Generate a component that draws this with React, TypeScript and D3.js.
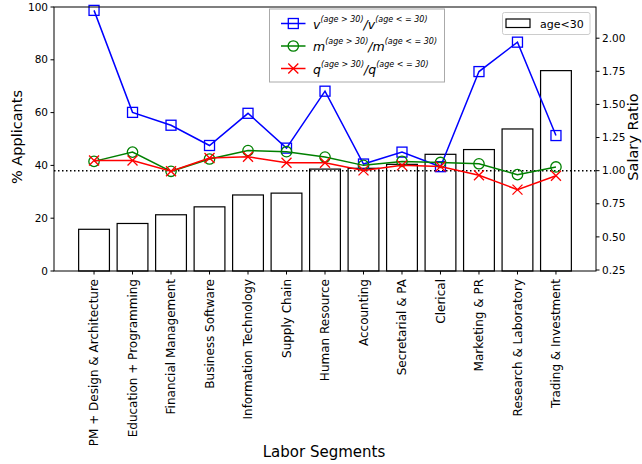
import React from "react";
import * as d3 from "d3";

const categories = [
  "PM + Design & Architecture",
  "Education + Programming",
  "Financial Management",
  "Business Software",
  "Information Technology",
  "Supply Chain",
  "Human Resource",
  "Accounting",
  "Secretarial & PA",
  "Clerical",
  "Marketing & PR",
  "Research & Laboratory",
  "Trading & Investment",
];
const applicants = [15.8, 18.0, 21.3, 24.3, 28.8, 29.5, 38.6, 38.9, 40.4, 44.2, 46.0, 53.8, 75.9];
const vRatio = [2.21, 1.44, 1.343, 1.19, 1.433, 1.17, 1.6, 1.05, 1.14, 1.03, 1.748, 1.97, 1.265];
const mRatio = [1.07, 1.14, 0.995, 1.088, 1.152, 1.143, 1.103, 1.04, 1.07, 1.062, 1.052, 0.97, 1.028];
const qRatio = [1.077, 1.077, 0.995, 1.095, 1.105, 1.06, 1.06, 1.002, 1.04, 1.032, 0.965, 0.857, 0.962];
const leftTicks = [0, 20, 40, 60, 80, 100];
const rightTicks = [0.25, 0.5, 0.75, 1.0, 1.25, 1.5, 1.75, 2.0];

const W = 642, H = 464;
const L = 54, R = 596, T = 7, B = 271;
const FONT = "DejaVu Sans, sans-serif";

export default function App() {
  const n = categories.length;
  const x = d3.scaleLinear().domain([-1.04, n - 1 + 1.04]).range([L, R]);
  const yL = d3.scaleLinear().domain([0, 100]).range([B, T]);
  const yR = d3.scaleLinear().domain([0.2425, 2.2355]).range([B, T]);
  const barW = (x(0.4) - x(-0.4));
  const line = (arr: number[]) =>
    d3.line<number>().x((_, i) => x(i)).y((d) => yR(d))(arr) || "";

  const square = (cx: number, cy: number, color: string, key: any) => (
    <rect key={key} x={cx - 5} y={cy - 5} width={10} height={10} fill="none" stroke={color} strokeWidth={1.3} />
  );
  const circle = (cx: number, cy: number, color: string, key: any) => (
    <circle key={key} cx={cx} cy={cy} r={5.2} fill="none" stroke={color} strokeWidth={1.3} />
  );
  const cross = (cx: number, cy: number, color: string, key: any) => (
    <path key={key} d={`M${cx - 5},${cy - 5}L${cx + 5},${cy + 5}M${cx - 5},${cy + 5}L${cx + 5},${cy - 5}`} stroke={color} strokeWidth={1.3} fill="none" />
  );

  const series = [
    { data: vRatio, color: "#0000ff", marker: square, sym: "v" },
    { data: mRatio, color: "#008000", marker: circle, sym: "m" },
    { data: qRatio, color: "#ff0000", marker: cross, sym: "q" },
  ];

  return (
    <svg width={W} height={H} style={{ position: "absolute", left: 0, top: 0, background: "#fff" }} fontFamily={FONT}>
      <rect x={0} y={0} width={W} height={H} fill="#fff" />
      {/* bars */}
      {applicants.map((v, i) => (
        <rect key={"b" + i} x={x(i) - barW / 2} y={yL(v)} width={barW} height={yL(0) - yL(v)} fill="#fff" stroke="#000" strokeWidth={1.2} />
      ))}
      {/* dotted ref line */}
      <line x1={L} x2={R} y1={yR(1)} y2={yR(1)} stroke="#000" strokeWidth={1.5} strokeDasharray="1.5,2.5" />
      {/* lines */}
      {series.map((s, k) => (
        <g key={"s" + k}>
          <path d={line(s.data)} fill="none" stroke={s.color} strokeWidth={1.5} />
          {s.data.map((d, i) => s.marker(x(i), yR(d), s.color, i))}
        </g>
      ))}
      {/* frame */}
      <rect x={L} y={T} width={R - L} height={B - T} fill="none" stroke="#000" strokeWidth={1} />
      {/* left axis */}
      {leftTicks.map((t) => (
        <g key={"lt" + t}>
          <line x1={L - 3.5} x2={L} y1={yL(t)} y2={yL(t)} stroke="#000" />
          <text x={L - 6} y={yL(t)} dy="0.35em" textAnchor="end" fontSize={10.5} fill="#000">{t}</text>
        </g>
      ))}
      {/* right axis */}
      {rightTicks.map((t) => (
        <g key={"rt" + t}>
          <line x1={R} x2={R + 3.5} y1={yR(t)} y2={yR(t)} stroke="#000" />
          <text x={R + 6} y={yR(t)} dy="0.35em" textAnchor="start" fontSize={10.5} fill="#000">{t.toFixed(2)}</text>
        </g>
      ))}
      {/* x axis */}
      {categories.map((c, i) => (
        <g key={"xt" + i}>
          <line x1={x(i)} x2={x(i)} y1={B} y2={B + 3.5} stroke="#000" />
          <text transform={`translate(${x(i)},${B + 8}) rotate(-90)`} dy="0.35em" textAnchor="end" fontSize={12} fill="#000">{c}</text>
        </g>
      ))}
      {/* axis labels */}
      <text transform={`translate(22,137) rotate(-90)`} textAnchor="middle" fontSize={14.5} fill="#000">% Applicants</text>
      <text transform={`translate(638,137) rotate(-90)`} textAnchor="middle" fontSize={14.5} fill="#000">Salary Ratio</text>
      <text x={324} y={457} textAnchor="middle" fontSize={15} fill="#000">Labor Segments</text>
      {/* line legend */}
      <rect x={269.5} y={9} width={175} height={73} fill="#fff" stroke="#aaa" strokeWidth={1} />
      {series.map((s, k) => {
        const cy = 23.5 + k * 22.5;
        return (
          <g key={"lg" + k}>
            <line x1={281} x2={305.5} y1={cy} y2={cy} stroke={s.color} strokeWidth={1.5} />
            {s.marker(293.3, cy, s.color, "m")}
            <text x={313} y={cy + 5} fontSize={12.5} fill="#000">
              <tspan fontStyle="italic">{s.sym}</tspan>
              <tspan fontSize={8} fontStyle="italic" dy={-7}>(age &gt; 30)</tspan>
              <tspan fontStyle="italic" dy={7}>/{s.sym}</tspan>
              <tspan fontSize={8} fontStyle="italic" dy={-7}>(age &lt; = 30)</tspan>
            </text>
          </g>
        );
      })}
      {/* bar legend */}
      <rect x={502.5} y={12.5} width={87.5} height={22} fill="#fff" stroke="#ccc" strokeWidth={1} rx={2} />
      <rect x={506} y={19} width={24} height={8.5} fill="#fff" stroke="#000" strokeWidth={1.2} />
      <text x={540} y={28} fontSize={11} fill="#000">age&lt;30</text>
    </svg>
  );
}
